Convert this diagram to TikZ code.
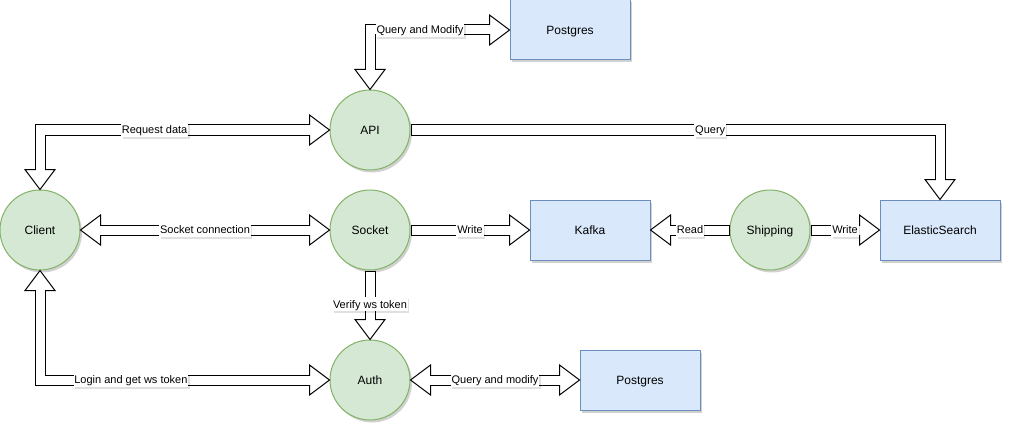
\documentclass[tikz,border=0pt]{standalone}
\usepackage{fontspec}
\setmainfont{Liberation Sans}
\usetikzlibrary{shadows}
\definecolor{gfill}{HTML}{D5E8D4}
\definecolor{gline}{HTML}{82B366}
\definecolor{bfill}{HTML}{DAE8FC}
\definecolor{bline}{HTML}{6C8EBF}
\tikzset{
  softshadow/.style={drop shadow={shadow xshift=2pt, shadow yshift=-2.5pt, opacity=0.18, fill=black}},
  circnode/.style={circle, minimum size=80pt, inner sep=0pt, fill=gfill, draw=gline, line width=1pt,
    font=\fontsize{12}{14}\selectfont, text height=10.86pt, text depth=2.54pt, softshadow},
  boxnode/.style={rectangle, minimum width=120pt, minimum height=60pt, inner sep=0pt, fill=bfill, draw=bline,
    line width=1pt, font=\fontsize{12}{14}\selectfont, text height=10.86pt, text depth=2.54pt, softshadow},
  fouter/.style={line width=11pt, line join=miter, draw=black},
  finner/.style={line width=9pt, line join=miter, draw=white},
  fheadstyle/.style={fill=white, draw=black, line width=1pt, line join=miter},
  lbl/.style={fill=white, inner sep=0.8pt, font=\fontsize{11}{13}\selectfont, text height=9.96pt, text depth=2.33pt,
    drop shadow={shadow xshift=1.5pt, shadow yshift=-2pt, opacity=0.12, fill=black}},
}
\newcommand\fhead[2]{\filldraw[fheadstyle, shift={(#1)}, rotate=#2] (0,0) -- (-20,15) -- (-20,-15) -- cycle;}
\newcommand\edgeset[3]{%
  \draw[#1, shorten <=#2, shorten >=#2] (api.north) |- (pgtop.west);
  \draw[#1, shorten <=#2, shorten >=#2] (api.west) -| (client.north);
  \draw[#1, shorten <=#2, shorten >=#2] (client.east) -- (socket.west);
  \draw[#1, shorten <=#2, shorten >=#2] (client.south) |- (auth.west);
  \draw[#1, shorten <=#3, shorten >=#2] (api.east) -| (es.north);
  \draw[#1, shorten <=#3, shorten >=#2] (socket.east) -- (kafka.west);
  \draw[#1, shorten <=#3, shorten >=#2] (ship.west) -- (kafka.east);
  \draw[#1, shorten <=#3, shorten >=#2] (ship.east) -- (es.west);
  \draw[#1, shorten <=#3, shorten >=#2] (socket.south) -- (auth.north);
  \draw[#1, shorten <=#2, shorten >=#2] (auth.east) -- (pgbot.west);
}
\begin{document}
\begin{tikzpicture}[x=1pt, y=1pt]
\useasboundingbox (0,0) rectangle (1012,432);
% nodes
\node[boxnode] (pgtop) at (570,402) {Postgres};
\node[circnode] (api) at (370,302) {API};
\node[circnode] (client) at (40,202) {Client};
\node[circnode] (socket) at (370,202) {Socket};
\node[boxnode] (kafka) at (590,202) {Kafka};
\node[circnode] (ship) at (770,202) {Shipping};
\node[boxnode] (es) at (940,202) {ElasticSearch};
\node[circnode] (auth) at (370,52) {Auth};
\node[boxnode] (pgbot) at (640,52) {Postgres};
% connector bodies (outline)
\edgeset{fouter}{20pt}{0pt}
% arrow heads
\fhead{api.north}{-90}
\fhead{pgtop.west}{0}
\fhead{api.west}{0}
\fhead{client.north}{-90}
\fhead{client.east}{180}
\fhead{socket.west}{0}
\fhead{client.south}{90}
\fhead{auth.west}{0}
\fhead{es.north}{-90}
\fhead{kafka.west}{0}
\fhead{kafka.east}{180}
\fhead{es.west}{0}
\fhead{auth.north}{-90}
\fhead{auth.east}{180}
\fhead{pgbot.west}{0}
% connector bodies (inner)
\edgeset{finner}{19pt}{1pt}
% labels
\path (api.north) |- node[lbl, pos=0.679] {Query and Modify} (pgtop.west);
\path (api.west) -| node[lbl, pos=0.302] {Request data} (client.north);
\path (client.east) -- node[lbl, pos=0.5] {Socket connection} (socket.west);
\path (client.south) |- node[lbl, pos=0.657] {Login and get ws token} (auth.west);
\path (api.east) -| node[lbl, pos=0.283] {Query} (es.north);
\path (socket.east) -- node[lbl, pos=0.5] {Write} (kafka.west);
\path (ship.west) -- node[lbl, pos=0.5] {Read} (kafka.east);
\path (ship.east) -- node[lbl, pos=0.5] {Write} (es.west);
\path (socket.south) -- node[lbl, pos=0.49] {Verify ws token} (auth.north);
\path (auth.east) -- node[lbl, pos=0.5] {Query and modify} (pgbot.west);
\end{tikzpicture}
\end{document}
